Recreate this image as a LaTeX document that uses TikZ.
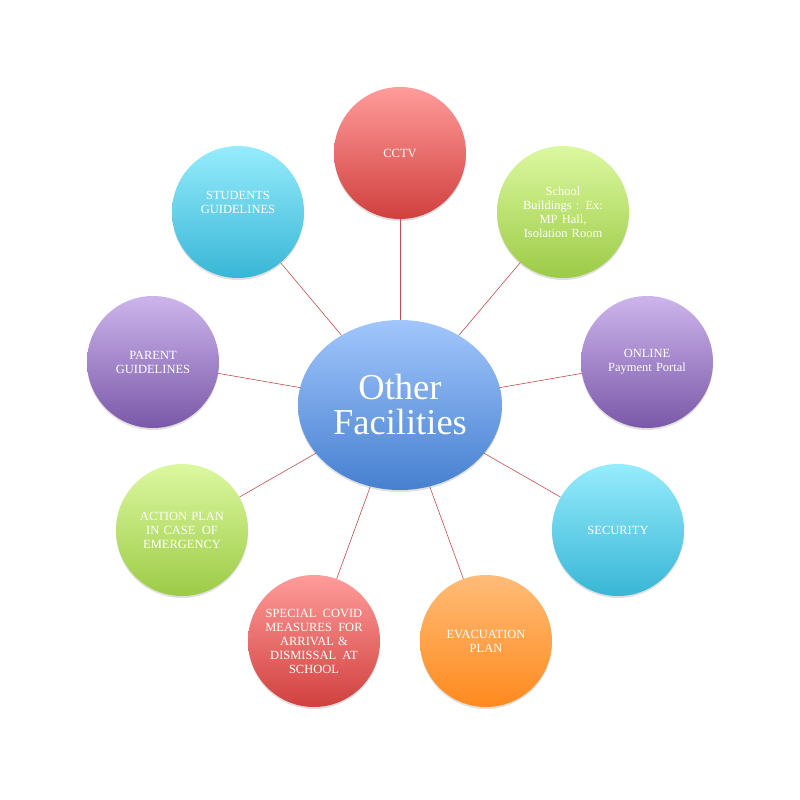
\documentclass[tikz,border=0pt]{standalone}
\usepackage{fontspec}
\setmainfont{Liberation Serif}
\usetikzlibrary{shadows,shapes.geometric}
\definecolor{redT}{HTML}{FF9C9A}\definecolor{redB}{HTML}{D0403E}
\definecolor{grnT}{HTML}{DCF8A0}\definecolor{grnB}{HTML}{9CCB46}
\definecolor{purT}{HTML}{CDB5EC}\definecolor{purB}{HTML}{7A58A8}
\definecolor{cyaT}{HTML}{96ECFC}\definecolor{cyaB}{HTML}{38B6D6}
\definecolor{orgT}{HTML}{FFBC78}\definecolor{orgB}{HTML}{FF8A1E}
\definecolor{bluT}{HTML}{A2C6FC}\definecolor{bluB}{HTML}{4680D0}
\definecolor{link}{HTML}{C0504D}
\tikzset{
  sat/.style={circle, minimum size=132pt, inner sep=0pt, text=white, align=center,
    font=\fontsize{12.5}{14}\selectfont, text width=110pt,
    drop shadow={shadow xshift=0pt, shadow yshift=-2pt, opacity=0.25}},
  redball/.style={sat, top color=redT, bottom color=redB},
  grnball/.style={sat, top color=grnT, bottom color=grnB},
  purball/.style={sat, top color=purT, bottom color=purB},
  cyaball/.style={sat, top color=cyaT, bottom color=cyaB},
  orgball/.style={sat, top color=orgT, bottom color=orgB},
  hub/.style={ellipse, minimum width=204pt, minimum height=170pt, inner sep=0pt,
    top color=bluT, bottom color=bluB, text=white, align=center,
    font=\fontsize{36.5}{35}\selectfont,
    drop shadow={shadow xshift=0pt, shadow yshift=-2pt, opacity=0.25}},
  conn/.style={draw=link, line width=0.6pt}
}
\begin{document}
\begin{tikzpicture}[x=1pt,y=-1pt]
\useasboundingbox[fill=white] (0,0) rectangle (800,800);
\node[hub] (c) at (400,405) {Other\\Facilities};
\node[redball] (s1) at (400,153) {CCTV};
\node[grnball] (s2) at (563,212) {School\\Buildings : Ex:\\MP Hall,\\Isolation Room};
\node[purball] (s3) at (647,362) {ONLINE\\Payment Portal};
\node[cyaball] (s4) at (618,530) {SECURITY};
\node[orgball] (s5) at (486,641) {EVACUATION\\PLAN};
\node[redball] (s6) at (314,641) {SPECIAL\hspace{0.5em}COVID\\MEASURES\hspace{0.5em}FOR\\ARRIVAL \&\\DISMISSAL\hspace{0.5em}AT\\SCHOOL};
\node[grnball] (s7) at (182,530) {ACTION PLAN\\IN CASE\hspace{0.5em}OF\\EMERGENCY};
\node[purball] (s8) at (153,362) {PARENT\\GUIDELINES};
\node[cyaball] (s9) at (238,212) {STUDENTS\\GUIDELINES\\[6pt]\mbox{}};
\foreach \s in {s1,s2,s3,s4,s5,s6,s7,s8,s9}{\draw[conn] (c) -- (\s);}
\end{tikzpicture}
\end{document}
